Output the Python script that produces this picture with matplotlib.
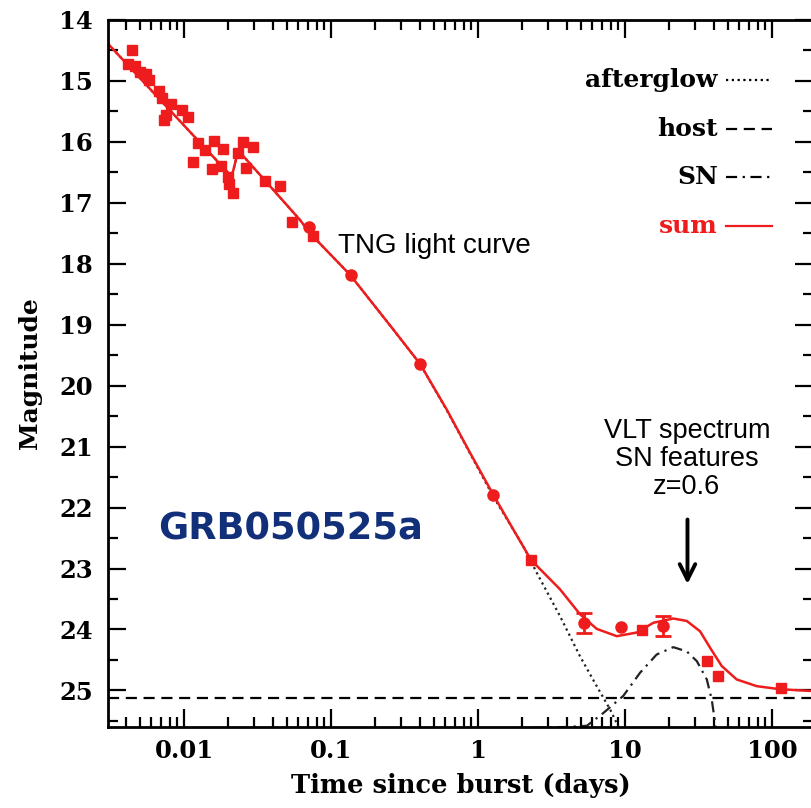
import numpy as np
import matplotlib
matplotlib.use('Agg')
import matplotlib.pyplot as plt
from matplotlib.ticker import LogLocator, MultipleLocator, FixedLocator, NullFormatter
from matplotlib.lines import Line2D

RED = '#ee1c1c'

# early TNG photometry + late squares
sq_t = [0.00441, 0.00416, 0.00464, 0.00502, 0.00548, 0.00578, 0.00676, 0.00709,
        0.00816, 0.00755, 0.00732, 0.00964, 0.0106, 0.0124, 0.0139, 0.0160, 0.0184,
        0.01146, 0.0154, 0.0178, 0.0199, 0.0202, 0.0214, 0.0233, 0.0251, 0.0293,
        0.0263, 0.0356, 0.045, 0.054, 0.0751,
        2.31, 13.1, 35.9, 43.1, 116]
sq_m = [14.50, 14.72, 14.75, 14.85, 14.89, 14.98, 15.16, 15.28,
        15.38, 15.56, 15.64, 15.48, 15.59, 16.01, 16.13, 15.98, 16.11,
        16.33, 16.44, 16.39, 16.57, 16.69, 16.84, 16.18, 16.00, 16.08,
        16.43, 16.64, 16.73, 17.31, 17.55,
        22.86, 24.01, 24.52, 24.77, 24.96]

# circles
ci_t = [0.0708, 0.136, 0.403, 1.265, 9.35]
ci_m = [17.40, 18.18, 19.64, 21.79, 23.96]

# points with error bars
eb_t = [5.29, 18.1]
eb_m = [23.89, 23.94]
eb_e = [0.16, 0.165]

# model curves
sum_t = [0.00304, 0.0211, 0.0234, 0.0615, 0.072, 0.1347, 0.2655, 0.4027,
         0.612, 0.882, 1.271, 1.738, 2.295, 3.61, 4.94, 6.42, 8.79, 12.02,
         15.59, 21.3, 26.3, 32.4, 37.9, 45.5, 57.5, 78.7, 113.3, 190]
sum_m = [14.39, 16.57, 16.14, 17.28, 17.50, 18.18, 19.08, 19.64,
         20.39, 21.10, 21.79, 22.36, 22.86, 23.34, 23.75, 23.99, 24.11, 24.05,
         23.89, 23.82, 23.86, 24.03, 24.30, 24.60, 24.82, 24.93, 24.98, 25.01]

ag_t = [0.00304, 0.0211, 0.0234, 0.0615, 0.072, 0.1347, 0.2655, 0.4027, 0.612, 0.882,
        1.27, 2.03, 2.51, 3.61, 4.94, 6.42, 7.91, 8.98, 10.0]
ag_m = [14.39, 16.57, 16.14, 17.28, 17.50, 18.18, 19.08, 19.64, 20.40, 21.11,
        21.82, 22.63, 23.07, 23.78, 24.44, 24.93, 25.31, 25.585, 25.9]

sn_t = [1.6, 2.5, 4.0, 5.5, 7.12, 9.73, 12.65, 16.43, 21.3, 26.3, 30.8, 36.0, 38.9, 41.0, 42.5]
sn_m = [25.62, 25.61, 25.60, 25.58, 25.37, 25.09, 24.71, 24.41, 24.29, 24.36, 24.52, 24.82, 25.15, 25.53, 25.9]

host_mag = 25.13

plt.rcParams['font.family'] = 'DejaVu Serif'

fig = plt.figure(figsize=(8.12, 8.08), dpi=100)
ax = fig.add_axes([108/812, 1 - 727/808, 705/812, 707/808])

ax.plot(ag_t, ag_m, color='#222222', ls=(0, (1, 1.6)), lw=1.6)
ax.axhline(host_mag, color='black', ls=(0, (5, 3)), lw=1.6)
ax.plot(sn_t, sn_m, color='#222222', ls=(0, (5, 2.5, 1, 2.5)), lw=1.6)
ax.plot(sum_t, sum_m, color=RED, lw=1.8)

ax.plot(sq_t, sq_m, 's', color=RED, ms=7, mec=RED)
ax.plot(ci_t, ci_m, 'o', color=RED, ms=8, mec=RED)
ax.errorbar(eb_t, eb_m, yerr=eb_e, fmt='o', color=RED, ms=8, capsize=6,
            elinewidth=2, capthick=2)

ax.set_xscale('log')
ax.set_xlim(0.00304, 190)
ax.set_ylim(25.6, 14)

ax.xaxis.set_major_locator(FixedLocator([0.01, 0.1, 1, 10, 100]))
ax.xaxis.set_minor_locator(LogLocator(base=10, subs=np.arange(2, 10)))
ax.xaxis.set_minor_formatter(NullFormatter())
ax.set_xticklabels(['0.01', '0.1', '1', '10', '100'])
ax.yaxis.set_major_locator(MultipleLocator(1))
ax.yaxis.set_minor_locator(MultipleLocator(0.5))

ax.tick_params(which='both', direction='in', top=True, right=True, width=1.6,
               labelsize=17.5)
ax.tick_params(axis='x', pad=9)
ax.tick_params(axis='y', pad=11)
ax.tick_params(which='major', length=13)
ax.tick_params(which='minor', length=7)
for lab in ax.get_xticklabels() + ax.get_yticklabels():
    lab.set_fontweight('bold')
for s in ax.spines.values():
    s.set_linewidth(2)

ax.set_xlabel('Time since burst (days)', fontsize=18.5, fontweight='bold', labelpad=7)
ax.set_ylabel('Magnitude', fontsize=18, fontweight='bold', labelpad=12)

# legend drawn by hand: right-aligned labels, sample lines on the right
leg = [('afterglow', 'black', (0, (1, 1.6)), 0.915),
       ('host', 'black', (0, (5, 3)), 0.846),
       ('SN', 'black', (0, (5, 2.5, 1, 2.5)), 0.778),
       ('sum', RED, '-', 0.709)]
for name, col, ls, yy in leg:
    ax.text(0.865, yy, name, transform=ax.transAxes, ha='right', va='center',
            fontsize=18, fontweight='bold', color=col)
    ax.add_line(Line2D([0.876, 0.942], [yy, yy], transform=ax.transAxes,
                       color=col, ls=ls, lw=1.6))

ax.text(0.1116, 17.82, 'TNG light curve', fontsize=20, family='Liberation Sans',
        ha='left', va='baseline')
ax.text(26.4, 21.21, 'VLT spectrum\nSN features\nz=0.6', fontsize=19.5,
        family='Liberation Sans', ha='center', va='center', linespacing=1.1)
ax.annotate('', xy=(26.6, 23.3), xytext=(26.6, 22.15),
            arrowprops=dict(arrowstyle='->', lw=2.8, color='black',
                            mutation_scale=28))
ax.text(0.00665, 22.35, 'GRB050525a', fontsize=26.5, fontweight='bold',
        family='DejaVu Sans', color='#12307a', ha='left', va='center')

fig.savefig('out.png', dpi=100)
